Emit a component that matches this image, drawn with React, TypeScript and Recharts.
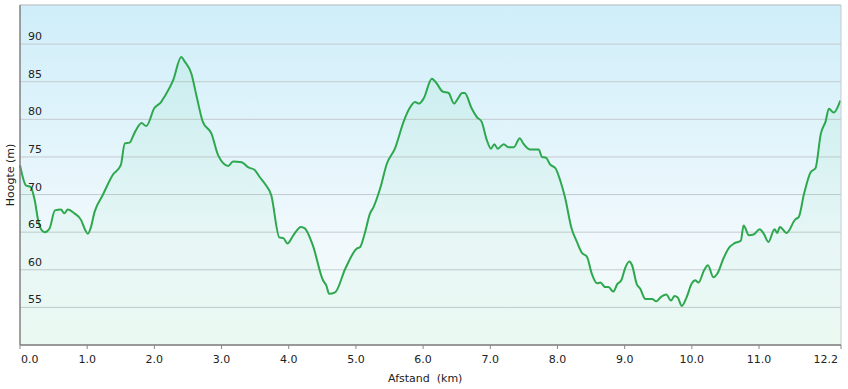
import React from 'react';
import {
  AreaChart, Area, XAxis, YAxis, CartesianGrid, ReferenceLine,
} from 'recharts';

// distance (km) and elevation (m)
const distance = [
  0.00, 0.09, 0.16, 0.22, 0.27, 0.32, 0.37, 0.44, 0.52, 0.61, 0.66, 0.71, 0.81, 0.91, 0.97,
  1.01, 1.05, 1.11, 1.23, 1.38, 1.50, 1.56, 1.63, 1.71, 1.81, 1.88, 2.00, 2.10, 2.15, 2.28,
  2.40, 2.45, 2.55, 2.63, 2.72, 2.85, 2.95, 3.10, 3.17, 3.30, 3.40, 3.49, 3.57, 3.64, 3.74,
  3.86, 3.92, 3.98, 4.07, 4.18, 4.24, 4.36, 4.51, 4.56, 4.60, 4.69, 4.84, 5.01, 5.06, 5.13,
  5.21, 5.26, 5.36, 5.46, 5.58, 5.71, 5.80, 5.88, 5.94, 6.01, 6.13, 6.20, 6.29, 6.38, 6.46,
  6.52, 6.58, 6.62, 6.72, 6.80, 6.87, 6.95, 7.01, 7.06, 7.11, 7.20, 7.27, 7.35, 7.44, 7.49,
  7.59, 7.72, 7.77, 7.83, 7.89, 7.97, 8.04, 8.11, 8.21, 8.29, 8.36, 8.44, 8.51, 8.59, 8.64,
  8.71, 8.76, 8.83, 8.89, 8.95, 9.01, 9.07, 9.11, 9.18, 9.23, 9.31, 9.41, 9.47, 9.53, 9.62,
  9.69, 9.74, 9.79, 9.85, 9.92, 10.00, 10.05, 10.10, 10.18, 10.24, 10.32, 10.38, 10.47, 10.56, 10.63,
  10.73, 10.77, 10.85, 10.92, 11.01, 11.07, 11.14, 11.23, 11.27, 11.31, 11.41, 11.54, 11.59, 11.67, 11.77,
  11.84, 11.92, 11.99, 12.04, 12.11, 12.21,
];

const elevation = [
  73.9, 71.2, 71.0, 69.2, 66.6, 65.3, 65.0, 65.5, 67.9, 68.0, 67.5, 68.0, 67.5, 66.6, 65.3,
  64.8, 65.5, 67.7, 69.9, 72.6, 73.9, 76.8, 76.9, 78.3, 79.5, 79.1, 81.5, 82.3, 83.0, 85.2,
  88.3, 87.7, 86.1, 83.0, 79.7, 78.1, 75.2, 73.8, 74.4, 74.3, 73.6, 73.3, 72.3, 71.5, 69.9,
  64.3, 64.2, 63.5, 64.6, 65.7, 65.5, 63.2, 58.6, 57.9, 56.8, 57.0, 60.1, 62.8, 63.0, 64.8,
  67.5, 68.3, 70.8, 74.1, 76.1, 79.7, 81.5, 82.3, 82.1, 82.8, 85.4, 84.8, 83.7, 83.5, 82.1,
  82.8, 83.5, 83.5, 81.5, 80.3, 79.7, 77.2, 76.1, 76.7, 76.1, 76.7, 76.3, 76.3, 77.5, 76.8,
  76.0, 76.0, 75.0, 74.9, 74.0, 73.5, 71.9, 69.7, 65.5, 63.7, 62.3, 61.7, 59.5, 58.2, 58.3,
  57.7, 57.7, 57.1, 58.1, 58.6, 60.3, 61.1, 60.6, 58.1, 57.5, 56.1, 56.1, 55.8, 56.3, 56.7,
  55.9, 56.5, 56.3, 55.2, 56.3, 58.2, 58.6, 58.3, 59.9, 60.6, 59.0, 59.5, 61.5, 63.0, 63.5,
  63.9, 65.9, 64.6, 64.7, 65.4, 64.8, 63.7, 65.4, 64.9, 65.7, 64.9, 66.7, 67.0, 70.1, 73.0,
  73.5, 78.1, 79.7, 81.4, 80.9, 82.5,
];

const xTicks = [0, 1, 2, 3, 4, 5, 6, 7, 8, 9, 10, 11, 12.22];
const yTicks = [55, 60, 65, 70, 75, 80, 85, 90];
const X_MAX = 12.22;
const Y_MIN = 50;
const Y_MAX = 95.2;

const data = distance.map((km, i) => ({ km, h: elevation[i] }));

const FONT = '"DejaVu Sans", Verdana, sans-serif';
const W = 848;
const H = 389;
const PLOT_LEFT = 20;

const XTick = (props: any) => {
  const { x, y, payload, index } = props;
  const last = index === xTicks.length - 1;
  const first = index === 0;
  return (
    <text
      x={first ? x + 1 : last ? x - 3 : x}
      y={y + 12}
      textAnchor={first ? 'start' : last ? 'end' : 'middle'}
      fill="#222"
      fontSize={11}
      fontFamily={FONT}
    >
      {payload.value.toFixed(1)}
    </text>
  );
};

const YTick = (props: any) => {
  const { y, payload } = props;
  return (
    <text x={PLOT_LEFT + 8} y={y - 4} textAnchor="start" fill="#222" fontSize={11} fontFamily={FONT}>
      {payload.value}
    </text>
  );
};

export default function App() {
  return (
    <div style={{ position: 'absolute', left: 0, top: 0, width: W, height: H, background: '#fff' }}>
      <AreaChart width={W} height={H} data={data} margin={{ top: 5, right: 7, bottom: 0, left: 0 }}>
        <defs>
          <linearGradient id="bg" x1="0" y1="0" x2="0" y2="1">
            <stop offset="0%" stopColor="#cfeef9" />
            <stop offset="70%" stopColor="#f1f9fd" />
            <stop offset="100%" stopColor="#f1fbf6" />
          </linearGradient>
          <linearGradient id="fillArea" x1="0" y1="0" x2="0" y2="1">
            <stop offset="0%" stopColor="#3cc878" stopOpacity={0.14} />
            <stop offset="100%" stopColor="#3cc878" stopOpacity={0.06} />
          </linearGradient>
        </defs>
        <CartesianGrid vertical={false} stroke="#c4cbce" fill="url(#bg)" />
        <XAxis
          type="number"
          dataKey="km"
          domain={[0, X_MAX]}
          ticks={xTicks}
          interval={0}
          height={44}
          tick={<XTick />}
          tickSize={4}
          tickLine={{ stroke: '#888' }}
          axisLine={{ stroke: '#808080', strokeWidth: 1.5 }}
        />
        <YAxis
          type="number"
          domain={[Y_MIN, Y_MAX]}
          ticks={yTicks}
          interval={0}
          width={PLOT_LEFT}
          tick={<YTick />}
          tickLine={false}
          axisLine={{ stroke: '#808080', strokeWidth: 1.5 }}
        />
        <ReferenceLine y={Y_MAX} stroke="#c4cbce" />
        <ReferenceLine x={X_MAX} stroke="#c4cbce" />
        <Area
          type="monotone"
          dataKey="h"
          baseValue={Y_MIN}
          stroke="#2ea84e"
          strokeWidth={2}
          fill="url(#fillArea)"
          isAnimationActive={false}
          dot={false}
          activeDot={false}
        />
      </AreaChart>
      <svg width={W} height={H} style={{ position: 'absolute', left: 0, top: 0, pointerEvents: 'none' }}>
        <text x={388} y={382} fontSize={11} fontFamily={FONT} fill="#222" style={{ whiteSpace: 'pre' }}>
          {'Afstand  (km)'}
        </text>
        <text
          x={0}
          y={0}
          transform="translate(14,175) rotate(-90)"
          textAnchor="middle"
          fontSize={11}
          fontFamily={FONT}
          fill="#222"
        >
          Hoogte (m)
        </text>
      </svg>
    </div>
  );
}
